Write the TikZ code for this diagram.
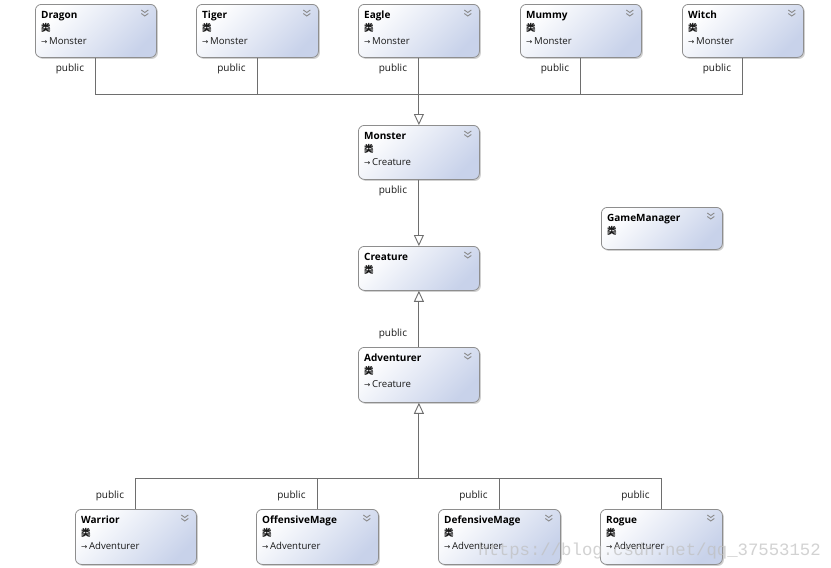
\documentclass[tikz,border=0pt]{standalone}
\usepackage{fontspec}
\setmainfont{Open Sans}
\newfontfamily\cjk{Noto Sans CJK SC}
\newfontfamily\wmfont{Liberation Mono}
\newfontfamily\symfont{DejaVu Sans}
\usetikzlibrary{arrows.meta,shadows}
\definecolor{boxblue}{HTML}{C8D2EA}
\definecolor{boxline}{HTML}{8E8E8E}
\definecolor{conn}{HTML}{6E6E6E}
\definecolor{chevc}{HTML}{8A8A8A}
\tikzset{
  clsbox/.style={draw=boxline, line width=0.8pt, rounded corners=6pt, inner sep=0pt,
    top color=white, bottom color=boxblue, shading angle=45,
    drop shadow={shadow xshift=1.5pt, shadow yshift=-1.5pt, opacity=0.3, fill=black!60}},
  ttl/.style={inner sep=0pt, font=\fontsize{10}{11}\selectfont\bfseries, text=black},
  iconstyle/.style={inner sep=0pt, font=\cjk\fontsize{9.5}{10}\selectfont\bfseries, text=black!90},
  parstyle/.style={inner sep=0pt, font=\fontsize{9.6}{11}\selectfont, text=black!90},
  chev/.style={draw=chevc, line width=0.9pt},
  connline/.style={draw=conn, line width=0.9pt},
  gen/.style={connline, -{Triangle[open, length=11pt, width=10pt, fill=white]}},
  lbl/.style={inner sep=0pt, font=\fontsize{10}{11}\selectfont, text=black!90},
  wmark/.style={inner sep=0pt, font=\wmfont\fontsize{17.3}{18}\selectfont, text=black!25, opacity=0.7}
}
\newcommand\umlcls[7]{%
  \node[clsbox, minimum width=#4pt, minimum height=#5pt, anchor=north west] (#1) at (#2,#3) {};
  \node[ttl, anchor=base west] (#1-title) at ([xshift=6pt,yshift=-14pt]#1.north west) {#6};
  \node[iconstyle, anchor=base west] (#1-icon) at ([xshift=6pt,yshift=-27.5pt]#1.north west) {类};
  \ifx&#7&\else
  \node[parstyle, anchor=base west] (#1-par) at ([xshift=6pt,yshift=-40pt]#1.north west) {{\symfont\fontsize{7.5}{8}\selectfont →}\,#7};
  \fi
  \draw[chev] ([xshift=-15.5pt,yshift=-6pt]#1.north east) -- ++(3.5pt,-2.5pt) -- ++(3.5pt,2.5pt);
  \draw[chev] ([xshift=-15.5pt,yshift=-9.5pt]#1.north east) -- ++(3.5pt,-2.5pt) -- ++(3.5pt,2.5pt);
}
\begin{document}
\begin{tikzpicture}[x=1pt,y=-1pt]
\fill[white] (0,0) rectangle (831,568);
\useasboundingbox (0,0) rectangle (831,568);

\umlcls{Dragon}{35}{4}{121}{53}{Dragon}{Monster}
\umlcls{Tiger}{196}{4}{122}{53}{Tiger}{Monster}
\umlcls{Eagle}{358}{4}{121}{53}{Eagle}{Monster}
\umlcls{Mummy}{520}{4}{121}{53}{Mummy}{Monster}
\umlcls{Witch}{682}{4}{121}{53}{Witch}{Monster}
\umlcls{Monster}{358}{125}{121}{54}{Monster}{Creature}
\umlcls{Creature}{358}{246}{121}{44}{Creature}{}
\umlcls{Adventurer}{358}{347}{121}{55}{Adventurer}{Creature}
\umlcls{GameManager}{601}{207}{121}{42}{GameManager}{}
\umlcls{Warrior}{75}{509}{121}{55}{Warrior}{Adventurer}
\umlcls{OffensiveMage}{256}{509}{122}{55}{OffensiveMage}{Adventurer}
\umlcls{DefensiveMage}{438}{509}{122}{55}{DefensiveMage}{Adventurer}
\umlcls{Rogue}{600}{509}{122}{55}{Rogue}{Adventurer}

% monster bus
\coordinate (mbus) at (Monster.north |- 0,94);
\draw[connline] (Dragon.south) |- (mbus);
\draw[connline] (Tiger.south) |- (mbus);
\draw[connline] (Eagle.south) -- (mbus);
\draw[connline] (Mummy.south) |- (mbus);
\draw[connline] (Witch.south) |- (mbus);
\draw[gen] (mbus) -- (Monster.north);
\draw[gen] (Monster.south) -- (Creature.north);
\draw[gen] (Adventurer.north) -- (Creature.south);

% adventurer bus
\coordinate (abus) at (Adventurer.south |- 0,478);
\draw[gen] (abus) -- (Adventurer.south);
\draw[connline] (Warrior.north) |- (abus);
\draw[connline] (OffensiveMage.north) |- (abus);
\draw[connline] (DefensiveMage.north) |- (abus);
\draw[connline] (Rogue.north) |- (abus);

% labels
\foreach \n in {Dragon,Tiger,Eagle,Mummy,Witch,Monster}
  \node[lbl] (lbl-\n) at ([xshift=-26pt,yshift=-11pt]\n.south) {public};
\foreach \n in {Adventurer,Warrior,OffensiveMage,DefensiveMage,Rogue}
  \node[lbl] (lbl-\n) at ([xshift=-26pt,yshift=13pt]\n.north) {public};

\node[wmark, anchor=base west] (watermark) at (478,555) {https://blog.csdn.net/qq\_37553152};
\end{tikzpicture}
\end{document}
